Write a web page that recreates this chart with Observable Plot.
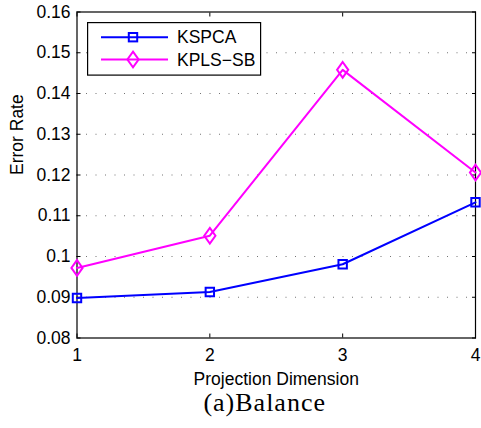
<!DOCTYPE html>
<html>
<head>
<meta charset="utf-8">
<script src="https://cdn.jsdelivr.net/npm/d3@7"></script>
<script src="https://cdn.jsdelivr.net/npm/@observablehq/plot@0.6"></script>
<style>
  html, body { margin: 0; padding: 0; background: #fff; }
  #wrap { position: relative; width: 481px; height: 428px; overflow: hidden; }
  #legend { position: absolute; left: 87px; top: 21.5px; }
  #caption { width: 432.6px; padding-left: 48.4px; text-align: center;
    font-family: "Liberation Serif", "Times New Roman", serif; font-size: 26px;
    line-height: 26px; letter-spacing: 1px; color: #000; }
</style>
</head>
<body>
<div id="wrap"></div>
<script>
// ---- data ----
const dims = [1, 2, 3, 4];
const kspca = [0.0898, 0.0913, 0.0981, 0.1133];
const kplssb = [0.0972, 0.1051, 0.1458, 0.1206];
const seriesNames = ["KSPCA", "KPLS\u2212SB"];
const seriesColors = ["#0000ff", "#ff00ff"];
const yTicks = [0.08, 0.09, 0.10, 0.11, 0.12, 0.13, 0.14, 0.15, 0.16];
const xLabel = "Projection Dimension";
const yLabel = "Error Rate";
const captionText = "(a)Balance";

const rows = [
  ...dims.map((d, i) => ({dim: d, value: kspca[i], series: seriesNames[0]})),
  ...dims.map((d, i) => ({dim: d, value: kplssb[i], series: seriesNames[1]}))
];

const squareSym = {draw(ctx, size) { const r = Math.sqrt(size / Math.PI); ctx.rect(-r, -r, 2 * r, 2 * r); }};
const diamondSym = {draw(ctx, size) { const r = Math.sqrt(size / Math.PI); const w = r * 1.0, h = r * 1.4;
  ctx.moveTo(0, -h); ctx.lineTo(w, 0); ctx.lineTo(0, h); ctx.lineTo(-w, 0); ctx.closePath(); }};

const FONT = "'Liberation Sans', Arial, Helvetica, sans-serif";
const H = 390;
const chart = Plot.plot({
  width: 481, height: H,
  marginLeft: 76.5, marginRight: 6, marginTop: 11.5, marginBottom: H - 337.5,
  x: {domain: [1, 4]},
  y: {domain: [0.08, 0.16]},
  style: {fontFamily: FONT, fontSize: "17.5px", color: "#000", background: "#fff"},
  marks: [
    Plot.gridY(yTicks.slice(1, -1), {stroke: "#000", strokeOpacity: 0.55, strokeWidth: 1, strokeDasharray: "1,8.5"}),
    Plot.frame({stroke: "#000", strokeWidth: 1.2}),
    Plot.axisX({ticks: dims, tickSize: -4, tickPadding: 14.5, tickFormat: d => String(d), label: null, stroke: "#000", strokeWidth: 1}),
    Plot.axisX({anchor: "top", ticks: dims, tickSize: -4, tickFormat: () => "", label: null, stroke: "#000"}),
    Plot.axisY({ticks: yTicks, tickSize: -4, tickPadding: 10.5, tickFormat: d3.format("~g"), label: null, stroke: "#000"}),
    Plot.axisY({anchor: "right", ticks: yTicks, tickSize: -4, tickFormat: () => "", label: null, stroke: "#000"}),
    Plot.line(rows, {x: "dim", y: "value", z: "series", stroke: "series", strokeWidth: 2}),
    Plot.dot(rows.filter(r => r.series === seriesNames[0]), {x: "dim", y: "value", stroke: seriesColors[0], symbol: squareSym, r: 4.2, strokeWidth: 2, fill: "none"}),
    Plot.dot(rows.filter(r => r.series === seriesNames[1]), {x: "dim", y: "value", stroke: seriesColors[1], symbol: diamondSym, r: 5.6, strokeWidth: 2, fill: "none"}),
    Plot.text([xLabel], {text: d => d, frameAnchor: "bottom", dy: 41.5, lineAnchor: "middle", fill: "#000"}),
    Plot.text([yLabel], {text: d => d, frameAnchor: "left", dx: -59.5, rotate: -90, lineAnchor: "middle", fill: "#000"})
  ],
  color: {domain: seriesNames, range: seriesColors}
});

const wrap = document.getElementById("wrap");
wrap.appendChild(chart);

// legend (inside the plot area, drawn over it)
const lw = 173, lh = 52.5;
const leg = d3.create("svg").attr("id", "legend").attr("width", lw + 2).attr("height", lh + 2)
  .style("font-family", FONT).style("font-size", "17.5px");
leg.append("rect").attr("x", 0.6).attr("y", 0.6).attr("width", lw).attr("height", lh)
  .attr("fill", "#fff").attr("stroke", "#000").attr("stroke-width", 1.2);
seriesNames.forEach((name, i) => {
  const y = 15.2 + i * 22.3;
  const g = leg.append("g");
  g.append("line").attr("x1", 14).attr("x2", 81).attr("y1", y).attr("y2", y)
    .attr("stroke", seriesColors[i]).attr("stroke-width", 2);
  if (i === 0) {
    g.append("rect").attr("x", 46 - 4.2).attr("y", y - 4.2).attr("width", 8.4).attr("height", 8.4)
      .attr("fill", "none").attr("stroke", seriesColors[i]).attr("stroke-width", 2);
  } else {
    g.append("path").attr("d", `M46,${y - 7.8}L51.6,${y}L46,${y + 7.8}L40.4,${y}Z`)
      .attr("fill", "none").attr("stroke", seriesColors[i]).attr("stroke-width", 2);
  }
  g.append("text").attr("x", 90).attr("y", y + 6).attr("fill", "#000").text(name);
});
wrap.appendChild(leg.node());

const cap = document.createElement("div");
cap.id = "caption";
cap.textContent = captionText;
wrap.appendChild(cap);
</script>
</body>
</html>
